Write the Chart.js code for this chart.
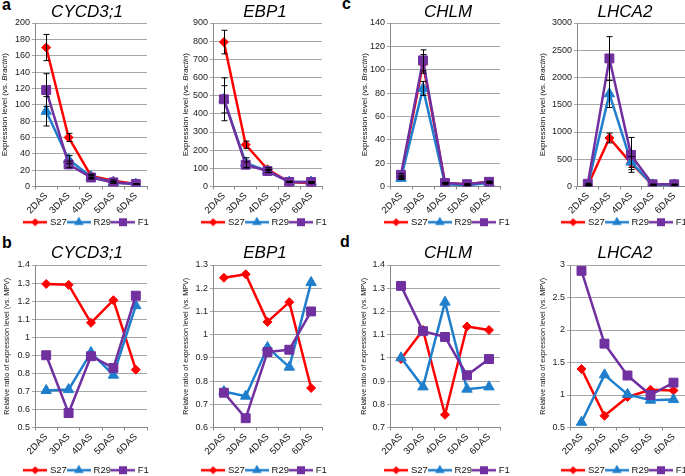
<!DOCTYPE html>
<html>
<head>
<meta charset="utf-8">
<script src="https://cdn.jsdelivr.net/npm/chart.js@4.4.1/dist/chart.umd.min.js"></script>
<style>
  html, body { margin: 0; padding: 0; background: #fff; }
  body { width: 685px; height: 476px; overflow: hidden; position: relative; }
  canvas { position: absolute; }
  .tag { position: absolute; font: bold 16px "Liberation Sans", Arial, sans-serif; line-height: 16px; color: #000; }
</style>
</head>
<body>
<div class="tag" style="left:2px; top:-3px">a</div>
<div class="tag" style="left:2px; top:235px">b</div>
<div class="tag" style="left:342px; top:-4px">c</div>
<div class="tag" style="left:340px; top:234px">d</div>
<canvas id="a1"></canvas>
<canvas id="a2"></canvas>
<canvas id="c1"></canvas>
<canvas id="c2"></canvas>
<canvas id="b1"></canvas>
<canvas id="b2"></canvas>
<canvas id="d1"></canvas>
<canvas id="d2"></canvas>
<script>
const days = ['2DAS', '3DAS', '4DAS', '5DAS', '6DAS'];
const lineNames = ['S27', 'R29', 'F1'];

// expression level vs. Bractin (top row), with error bars
const cycdExpS27 = [170, 60, 13, 7, 3];
const cycdExpR29 = [92, 33, 12, 5, 3];
const cycdExpF1 = [118, 27, 11, 5, 3];
const cycdErrS27 = [16, 5, 2, 1, 0.5];
const cycdErrR29 = [18, 5, 2, 1, 0.5];
const cycdErrF1 = [20, 4, 2, 1, 0.5];

const ebpExpS27 = [795, 230, 95, 25, 18];
const ebpExpR29 = [480, 130, 85, 25, 25];
const ebpExpF1 = [480, 120, 85, 25, 25];
const ebpErrS27 = [65, 20, 8, 3, 2];
const ebpErrR29 = [75, 28, 8, 3, 2];
const ebpErrF1 = [118, 15, 8, 3, 2];

const chlmExpS27 = [8, 105, 3, 2, 4];
const chlmExpR29 = [7, 84, 2, 1, 3];
const chlmExpF1 = [10, 108, 3, 2, 4];
const chlmErrS27 = [1, 8, 0.5, 0.3, 0.5];
const chlmErrR29 = [1, 6, 0.5, 0.3, 0.5];
const chlmErrF1 = [1, 9, 0.5, 0.3, 0.5];

const lhcaExpS27 = [20, 890, 430, 30, 30];
const lhcaExpR29 = [20, 1700, 450, 30, 30];
const lhcaExpF1 = [50, 2350, 580, 40, 40];
const lhcaErrS27 = [5, 90, 120, 5, 5];
const lhcaErrR29 = [5, 250, 100, 5, 5];
const lhcaErrF1 = [10, 400, 320, 5, 5];

// relative ratio vs. MPV (bottom row)
const cycdRelS27 = [1.295, 1.29, 1.08, 1.205, 0.82];
const cycdRelR29 = [0.705, 0.71, 0.915, 0.79, 1.175];
const cycdRelF1 = [0.90, 0.58, 0.895, 0.83, 1.23];

const ebpRelS27 = [1.245, 1.26, 1.055, 1.14, 0.77];
const ebpRelR29 = [0.755, 0.735, 0.945, 0.86, 1.225];
const ebpRelF1 = [0.75, 0.64, 0.925, 0.935, 1.10];

const chlmRelS27 = [0.995, 1.12, 0.755, 1.135, 1.12];
const chlmRelR29 = [1.0, 0.875, 1.24, 0.865, 0.875];
const chlmRelF1 = [1.31, 1.115, 1.09, 0.925, 0.995];

const lhcaRelS27 = [1.4, 0.68, 0.97, 1.08, 1.07];
const lhcaRelR29 = [0.58, 1.31, 1.01, 0.92, 0.93];
const lhcaRelF1 = [2.91, 1.79, 1.30, 1.0, 1.19];

// styles
const FONT = '"Liberation Sans", Arial, sans-serif';
const lineColors = ['#ff0000', '#1f7fcc', '#7030a0'];
const markerStyles = ['rectRot', 'triangle', 'rect'];
const markerSizes = [4.5, 6, 6.3];

const rowA = {
  top: 0, height: 237, titleTop: 1.8, titleBottom: 0.8, xAxisH: 29, yTitleSize: 8,
  yTitleParts: [{text: 'Expression level (vs. '}, {text: 'Bractin', italic: true}, {text: ')'}]
};
const rowB = {
  top: 237, height: 248, titleTop: 6.3, titleBottom: 1.3, xAxisH: 36, yTitleSize: 7.2,
  yTitleParts: [{text: 'Relative ratio of expression level (vs. MPV)'}]
};

const panels = [
  {id: 'a1', row: rowA, gene: 'CYCD3;1', series: [cycdExpS27, cycdExpR29, cycdExpF1], errors: [cycdErrS27, cycdErrR29, cycdErrF1],
    yMin: 0, yMax: 200, yStep: 20, left: 0, titleX: 5, plotL: 35, plotR: 147, center: 87},
  {id: 'a2', row: rowA, gene: 'EBP1', series: [ebpExpS27, ebpExpR29, ebpExpF1], errors: [ebpErrS27, ebpErrR29, ebpErrF1],
    yMin: 0, yMax: 900, yStep: 100, left: 180, titleX: 186, plotL: 213, plotR: 322, center: 265},
  {id: 'c1', row: rowA, gene: 'CHLM', series: [chlmExpS27, chlmExpR29, chlmExpF1], errors: [chlmErrS27, chlmErrR29, chlmErrF1],
    yMin: 0, yMax: 140, yStep: 20, left: 358, titleX: 365, plotL: 390, plotR: 500, center: 448},
  {id: 'c2', row: rowA, gene: 'LHCA2', series: [lhcaExpS27, lhcaExpR29, lhcaExpF1], errors: [lhcaErrS27, lhcaErrR29, lhcaErrF1],
    yMin: 0, yMax: 3000, yStep: 500, left: 536, titleX: 543, plotL: 577, plotR: 685, center: 625},
  {id: 'b1', row: rowB, gene: 'CYCD3;1', series: [cycdRelS27, cycdRelR29, cycdRelF1],
    yMin: 0.5, yMax: 1.4, yStep: 0.1, left: 0, titleX: 7, plotL: 35, plotR: 147, center: 87},
  {id: 'b2', row: rowB, gene: 'EBP1', series: [ebpRelS27, ebpRelR29, ebpRelF1],
    yMin: 0.6, yMax: 1.3, yStep: 0.1, left: 180, titleX: 186, plotL: 213, plotR: 322, center: 265},
  {id: 'd1', row: rowB, gene: 'CHLM', series: [chlmRelS27, chlmRelR29, chlmRelF1],
    yMin: 0.7, yMax: 1.4, yStep: 0.1, left: 358, titleX: 364, plotL: 390, plotR: 500, center: 448},
  {id: 'd2', row: rowB, gene: 'LHCA2', series: [lhcaRelS27, lhcaRelR29, lhcaRelF1],
    yMin: 0.5, yMax: 3, yStep: 0.5, left: 536, titleX: 543, plotL: 570, plotR: 685, center: 625}
];

function drawMarker(g, style, x, y, r) {
  g.beginPath();
  if (style === 'rectRot') {
    g.moveTo(x, y - r); g.lineTo(x + r, y); g.lineTo(x, y + r); g.lineTo(x - r, y);
  } else if (style === 'triangle') {
    const s = Math.sin(2 * Math.PI / 3) * r;
    g.moveTo(x, y - r); g.lineTo(x + s, y + r / 2); g.lineTo(x - s, y + r / 2);
  } else {
    const h = r * Math.SQRT1_2;
    g.rect(x - h, y - h, 2 * h, 2 * h);
  }
  g.closePath();
  g.fill();
}

function legendIcon(k) {
  const c = document.createElement('canvas');
  c.width = 24; c.height = 14;
  const g = c.getContext('2d');
  g.strokeStyle = lineColors[k];
  g.fillStyle = lineColors[k];
  g.lineWidth = 2.5;
  g.beginPath(); g.moveTo(0, 7); g.lineTo(24, 7); g.stroke();
  drawMarker(g, markerStyles[k], 12, 7, markerSizes[k] * 0.9);
  return c;
}
const icons = lineNames.map((n, k) => legendIcon(k));

const errorBars = {
  id: 'errorBars',
  afterDatasetsDraw(chart, args, opts) {
    if (!opts.errors) return;
    const ctx = chart.ctx;
    const ys = chart.scales.y;
    ctx.save();
    ctx.strokeStyle = '#000';
    ctx.lineWidth = 1;
    opts.errors.forEach((err, d) => {
      const meta = chart.getDatasetMeta(d);
      const vals = chart.data.datasets[d].data;
      err.forEach((e, i) => {
        if (!e) return;
        const x = Math.round(meta.data[i].x) + 0.5;
        const y1 = ys.getPixelForValue(vals[i] + e);
        const y2 = ys.getPixelForValue(vals[i] - e);
        ctx.beginPath();
        ctx.moveTo(x, y1); ctx.lineTo(x, y2);
        ctx.moveTo(x - 3, y1); ctx.lineTo(x + 3, y1);
        ctx.moveTo(x - 3, y2); ctx.lineTo(x + 3, y2);
        ctx.stroke();
      });
    });
    ctx.restore();
  }
};

// y axis title with an italic part
const yTitle = {
  id: 'yTitle',
  afterDraw(chart, args, opts) {
    const {ctx, chartArea} = chart;
    const fonts = opts.parts.map(p => (p.italic ? 'italic ' : '') + opts.size + 'px ' + FONT);
    ctx.save();
    ctx.translate(opts.x, (chartArea.top + chartArea.bottom) / 2);
    ctx.rotate(-Math.PI / 2);
    ctx.textBaseline = 'middle';
    ctx.textAlign = 'left';
    ctx.fillStyle = '#111';
    let total = 0;
    opts.parts.forEach((p, i) => { ctx.font = fonts[i]; total += ctx.measureText(p.text).width; });
    let x = -total / 2;
    opts.parts.forEach((p, i) => {
      ctx.font = fonts[i];
      ctx.fillText(p.text, x, 0);
      x += ctx.measureText(p.text).width;
    });
    ctx.restore();
  }
};

panels.forEach(p => {
  const row = p.row;
  const width = 2 * (p.center - p.left);
  const canvas = document.getElementById(p.id);
  canvas.width = width;
  canvas.height = row.height;
  canvas.style.left = p.left + 'px';
  canvas.style.top = row.top + 'px';

  new Chart(canvas, {
    type: 'line',
    data: {
      labels: days,
      datasets: p.series.map((vals, k) => ({
        label: lineNames[k],
        data: vals,
        yAxisID: 'y',
        order: 3 - k,
        borderColor: lineColors[k],
        backgroundColor: lineColors[k],
        borderWidth: 2.5,
        borderJoinStyle: 'round',
        tension: 0,
        pointStyle: markerStyles[k],
        pointRadius: markerSizes[k],
        pointBorderWidth: 1,
        pointBackgroundColor: lineColors[k],
        pointBorderColor: lineColors[k]
      }))
    },
    options: {
      responsive: false,
      animation: false,
      layout: {padding: 0},
      plugins: {
        title: {
          display: true,
          text: p.gene,
          color: '#000',
          font: {family: FONT, size: 17, style: 'italic', weight: 'normal', lineHeight: 1.2},
          padding: {top: row.titleTop, bottom: row.titleBottom}
        },
        legend: {
          position: 'bottom',
          labels: {
            usePointStyle: true,
            pointStyleWidth: 20,
            padding: 2,
            color: '#111',
            font: {family: FONT, size: 9.5},
            generateLabels: chart => lineNames.map((n, k) => ({
              text: n,
              pointStyle: icons[k],
              fillStyle: lineColors[k],
              strokeStyle: lineColors[k],
              lineWidth: 0,
              hidden: false,
              datasetIndex: k,
              fontColor: '#111'
            }))
          }
        },
        tooltip: {enabled: false},
        errorBars: {errors: p.errors},
        yTitle: {x: p.titleX - p.left, size: row.yTitleSize, parts: row.yTitleParts}
      },
      scales: {
        x: {
          type: 'category',
          offset: true,
          grid: {display: true, drawOnChartArea: false, drawTicks: true, tickLength: 3, color: '#888', offset: true},
          border: {display: true, color: '#888', width: 1},
          ticks: {minRotation: 45, maxRotation: 45, autoSkip: false, padding: 1, color: '#111', font: {family: FONT, size: 9.5}},
          afterFit: s => { s.height = row.xAxisH; }
        },
        y: {
          type: 'linear',
          position: 'left',
          min: p.yMin,
          max: p.yMax,
          grid: {color: '#a6a6a6', drawTicks: true, tickLength: 3},
          border: {display: true, color: '#888', width: 1},
          ticks: {stepSize: p.yStep, padding: 2, color: '#222', font: {family: FONT, size: 9},
            callback: v => String(+v.toFixed(2))},
          afterFit: s => { s.width = p.plotL - p.left; }
        },
        pad: {
          type: 'linear',
          position: 'right',
          display: true,
          grid: {display: false, drawTicks: false},
          border: {display: false},
          ticks: {display: false},
          afterFit: s => { s.width = p.left + width - p.plotR; }
        }
      }
    },
    plugins: [errorBars, yTitle]
  });
});
</script>
</body>
</html>
